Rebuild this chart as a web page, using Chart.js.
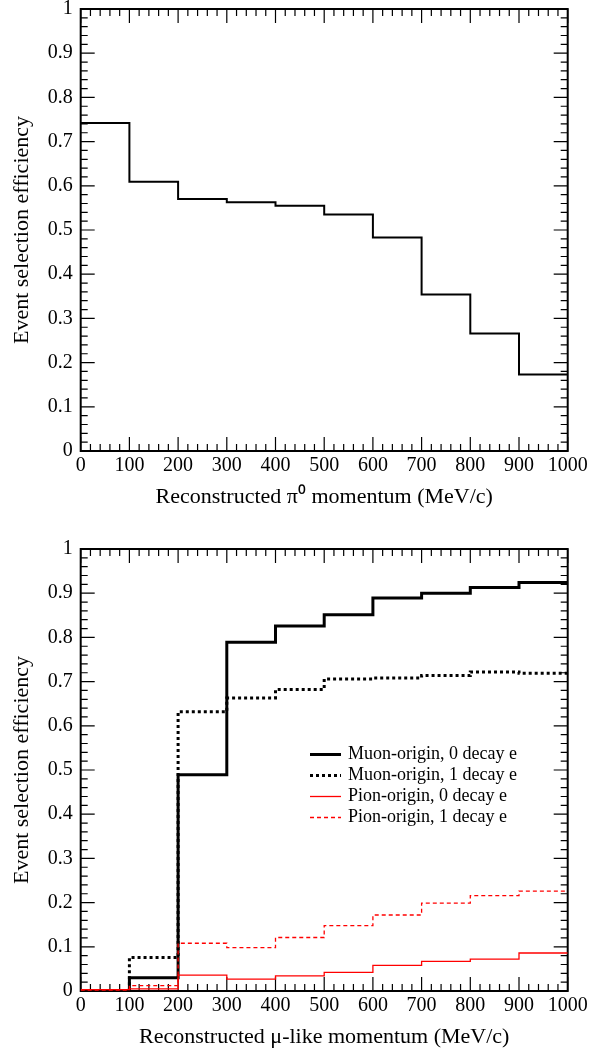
<!DOCTYPE html>
<html>
<head>
<meta charset="utf-8">
<script src="https://cdn.jsdelivr.net/npm/chart.js@4"></script>
<style>
  html, body { margin: 0; padding: 0; background: #fff; }
  body { width: 590px; height: 1050px; overflow: hidden; position: relative; }
  canvas { position: absolute; left: 0; }
  #pi0Chart { top: -40px; }
  #muChart { top: 500px; }
</style>
</head>
<body>
<canvas id="pi0Chart" width="640" height="565"></canvas>
<canvas id="muChart" width="640" height="565"></canvas>
<script>
// bin edges in MeV/c
const binEdges = [0, 100, 200, 300, 400, 500, 600, 700, 800, 900, 1000];
const xTicks = [0, 100, 200, 300, 400, 500, 600, 700, 800, 900, 1000];
const yTicks = [0, 0.1, 0.2, 0.3, 0.4, 0.5, 0.6, 0.7, 0.8, 0.9, 1];

// top panel: pi0 selection efficiency per bin
const pi0Eff = [0.742, 0.609, 0.570, 0.563, 0.555, 0.535, 0.483, 0.354, 0.266, 0.173];

// bottom panel: mu-like selection efficiency per bin
const muon0Eff = [0.001, 0.030, 0.489, 0.789, 0.826, 0.851, 0.889, 0.900, 0.913, 0.924];
const muon1Eff = [0.001, 0.076, 0.632, 0.663, 0.682, 0.706, 0.708, 0.714, 0.722, 0.719];
const pion0Eff = [0.003, 0.005, 0.036, 0.027, 0.034, 0.042, 0.058, 0.067, 0.072, 0.086];
const pion1Eff = [0.002, 0.012, 0.108, 0.098, 0.121, 0.148, 0.172, 0.199, 0.216, 0.226];

const seriesLabels = ['Muon-origin, 0 decay e', 'Muon-origin, 1 decay e', 'Pion-origin, 0 decay e', 'Pion-origin, 1 decay e'];

const SERIF = "'Liberation Serif', 'Times New Roman', serif";
Chart.defaults.font.family = SERIF;
Chart.defaults.color = '#000';

// histogram bins -> step points
function toSteps(values) {
    const pts = values.map((v, i) => ({ x: binEdges[i], y: v }));
    pts.push({ x: binEdges[binEdges.length - 1], y: values[values.length - 1] });
    return pts;
}

// ROOT-like frame with inward ticks on all four sides
const framePlugin = {
    id: 'frame',
    beforeDatasetsDraw(chart) {
        const { ctx, chartArea: a, scales } = chart;
        const xs = scales.x, ys = scales.y;
        ctx.save();
        ctx.strokeStyle = '#000';
        ctx.lineWidth = 1.2;
        ctx.beginPath();
        for (let i = 0; i <= 50; i++) {
            const px = xs.getPixelForValue(i * 20);
            const len = i % 5 === 0 ? 14 : 7;
            ctx.moveTo(px, a.bottom); ctx.lineTo(px, a.bottom - len);
            ctx.moveTo(px, a.top); ctx.lineTo(px, a.top + len);
        }
        for (let i = 0; i <= 50; i++) {
            const py = ys.getPixelForValue(i * 0.02);
            const len = i % 5 === 0 ? 14 : 7;
            ctx.moveTo(a.left, py); ctx.lineTo(a.left + len, py);
            ctx.moveTo(a.right, py); ctx.lineTo(a.right - len, py);
        }
        ctx.stroke();
        ctx.lineWidth = 2;
        ctx.strokeRect(a.left, a.top, a.right - a.left, a.bottom - a.top);
        ctx.restore();
    }
};

const legendPlugin = {
    id: 'stepLegend',
    afterDraw(chart, args, opts) {
        if (!opts.show) return;
        const ctx = chart.ctx;
        ctx.save();
        ctx.font = '18px ' + SERIF;
        ctx.textBaseline = 'middle';
        ctx.fillStyle = '#000';
        chart.data.datasets.forEach((ds, i) => {
            const y = opts.y + i * opts.rowGap;
            ctx.beginPath();
            ctx.strokeStyle = ds.borderColor;
            ctx.lineWidth = ds.borderWidth;
            ctx.setLineDash(ds.borderDash || []);
            ctx.moveTo(opts.x, y);
            ctx.lineTo(opts.x + opts.lineLen, y);
            ctx.stroke();
            ctx.setLineDash([]);
            ctx.fillText(ds.label, opts.x + opts.lineLen + 7, y);
        });
        ctx.restore();
    }
};

function axisOptions(xTitle) {
    return {
        x: {
            type: 'linear', min: 0, max: 1000,
            grid: { display: false, drawTicks: false }, border: { display: false },
            ticks: {
                stepSize: 100, autoSkip: false, maxRotation: 0, padding: 3,
                font: { family: SERIF, size: 20 },
                callback: (v) => String(v)
            },
            afterBuildTicks: (s) => { s.ticks = xTicks.map(v => ({ value: v })); },
            afterFit: (s) => { s.height = 60; },
            title: { display: true, text: xTitle, font: { family: SERIF, size: 22 }, padding: { top: 0, bottom: 1 } }
        },
        y: {
            type: 'linear', min: 0, max: 1,
            grid: { display: false, drawTicks: false }, border: { display: false },
            ticks: {
                padding: 8, font: { family: SERIF, size: 20 },
                callback: (v) => String(Number(v.toFixed(1)))
            },
            afterBuildTicks: (s) => { s.ticks = yTicks.map(v => ({ value: v })); },
            afterFit: (s) => { s.width = 80.7; },
            title: { display: true, text: 'Event selection efficiency', font: { family: SERIF, size: 22 }, padding: { top: 9, bottom: 0 } }
        }
    };
}

const baseOptions = {
    responsive: false,
    animation: false,
    devicePixelRatio: 1,
    events: [],
    layout: { padding: { left: 0, top: 49, right: 72.3, bottom: 14 } },
    elements: { point: { radius: 0 }, line: { tension: 0, stepped: true, fill: false } }
};

new Chart(document.getElementById('pi0Chart'), {
    type: 'line',
    data: {
        datasets: [{ label: 'pi0', data: toSteps(pi0Eff), borderColor: '#000', borderWidth: 2 }]
    },
    options: Object.assign({}, baseOptions, {
        scales: axisOptions('Reconstructed \u03C0\u2070 momentum (MeV/c)'),
        plugins: { legend: { display: false }, tooltip: { enabled: false }, stepLegend: { show: false } }
    }),
    plugins: [framePlugin, legendPlugin]
});

new Chart(document.getElementById('muChart'), {
    type: 'line',
    data: {
        datasets: [
            { label: seriesLabels[0], data: toSteps(muon0Eff), borderColor: '#000', borderWidth: 3, order: 4 },
            { label: seriesLabels[1], data: toSteps(muon1Eff), borderColor: '#000', borderWidth: 3, borderDash: [3, 3], order: 3 },
            { label: seriesLabels[2], data: toSteps(pion0Eff), borderColor: '#ff0000', borderWidth: 1.3, order: 2 },
            { label: seriesLabels[3], data: toSteps(pion1Eff), borderColor: '#ff0000', borderWidth: 1.3, borderDash: [4, 3], order: 1 }
        ]
    },
    options: Object.assign({}, baseOptions, {
        scales: axisOptions('Reconstructed \u03BC-like momentum (MeV/c)'),
        plugins: {
            legend: { display: false }, tooltip: { enabled: false },
            stepLegend: { show: true, x: 310, y: 254.5, rowGap: 21, lineLen: 31 }
        }
    }),
    plugins: [framePlugin, legendPlugin]
});
</script>
</body>
</html>
